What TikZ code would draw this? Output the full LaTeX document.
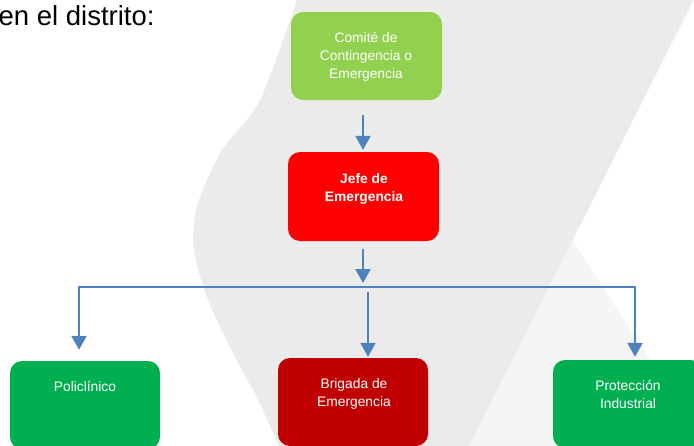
\documentclass[tikz,border=0pt]{standalone}
\usepackage{fontspec}
\setmainfont{Liberation Sans}
\usetikzlibrary{arrows.meta}
\definecolor{bandgray}{HTML}{EBEBEB}
\definecolor{lightgray2}{HTML}{F5F5F5}
\definecolor{lgreen}{HTML}{92D050}
\definecolor{mgreen}{HTML}{00B050}
\definecolor{bred}{HTML}{FF0000}
\definecolor{dred}{HTML}{C00000}
\definecolor{conblue}{HTML}{4F81BD}
\tikzset{
  boxnode/.style={rectangle, rounded corners=12pt, draw=none, minimum width=151pt, inner sep=0pt},
  boxtext/.style={text=white, align=center, inner sep=0pt, anchor=base, font=\fontsize{13.8}{17.6}\selectfont},
  conn/.style={draw=conblue, line width=2.4pt},
  arr/.style={conn, -{Triangle[width=15pt,length=14pt]}}
}
\begin{document}
\begin{tikzpicture}[x=1pt,y=-1pt]
\clip (0,0) rectangle (694,445);
\fill[white] (0,0) rectangle (694,445);
% background shapes
\fill[lightgray2] (572,240) -- (712,455) -- (450,455) -- cycle;
\fill[bandgray] plot[smooth] coordinates {(298,-3) (260,100) (222,150) (199,200) (193,235) (197,265) (210,305) (234,355) (258,400) (282,452)} -- (466,452) -- (695,-3) -- cycle;
% title
\node[anchor=base west, inner sep=0pt, font=\fontsize{27.5}{33}\selectfont] (title) at (-1.5,25) {en el distrito:};
% boxes
\node[boxnode, fill=lgreen, minimum height=88pt] (com) at (366.5,56) {};
\node[boxnode, fill=bred, minimum height=89pt] (jefe) at (363.5,196.5) {};
\node[boxnode, fill=mgreen, minimum width=150pt, minimum height=88pt] (pol) at (85,405) {};
\node[boxnode, fill=dred, minimum width=150pt, minimum height=88pt] (bri) at (353,402) {};
\node[boxnode, fill=mgreen, minimum width=150pt, minimum height=88pt] (pro) at (628,404) {};
% texts
\node[boxtext] (comt) at (366,78) {Comité de\\Contingencia o\\Emergencia};
\node[boxtext, font=\fontsize{13.8}{17.6}\selectfont\bfseries] (jefet) at (364,201) {Jefe de\\Emergencia};
\node[boxtext] (polt) at (85,391) {Policlínico};
\node[boxtext] (brit) at (354,406.5) {Brigada de\\Emergencia};
\node[boxtext, font=\fontsize{13.8}{18}\selectfont] (prot) at (628,408) {Protección\\Industrial};
% connectors
\coordinate (a1s) at (363,115);
\coordinate (a2s) at (363,249);
\coordinate (hub) at (363,287);
\coordinate (hl) at (79,287);
\coordinate (hr) at (635,287);
\coordinate (ms) at (368,292);
\draw[arr, shorten >=2pt] (a1s) -- (a1s |- jefe.north);
\draw[arr, shorten >=4pt] (a2s) -- (hub);
\draw[conn, line cap=rect] (hl) -- (hr);
\draw[arr] (hl) -- ([yshift=11pt]hl |- pol.north);
\draw[arr, shorten >=1pt] (ms) -- (ms |- bri.north);
\draw[arr, shorten >=3pt] (hr) -- (hr |- pro.north);
\end{tikzpicture}
\end{document}
